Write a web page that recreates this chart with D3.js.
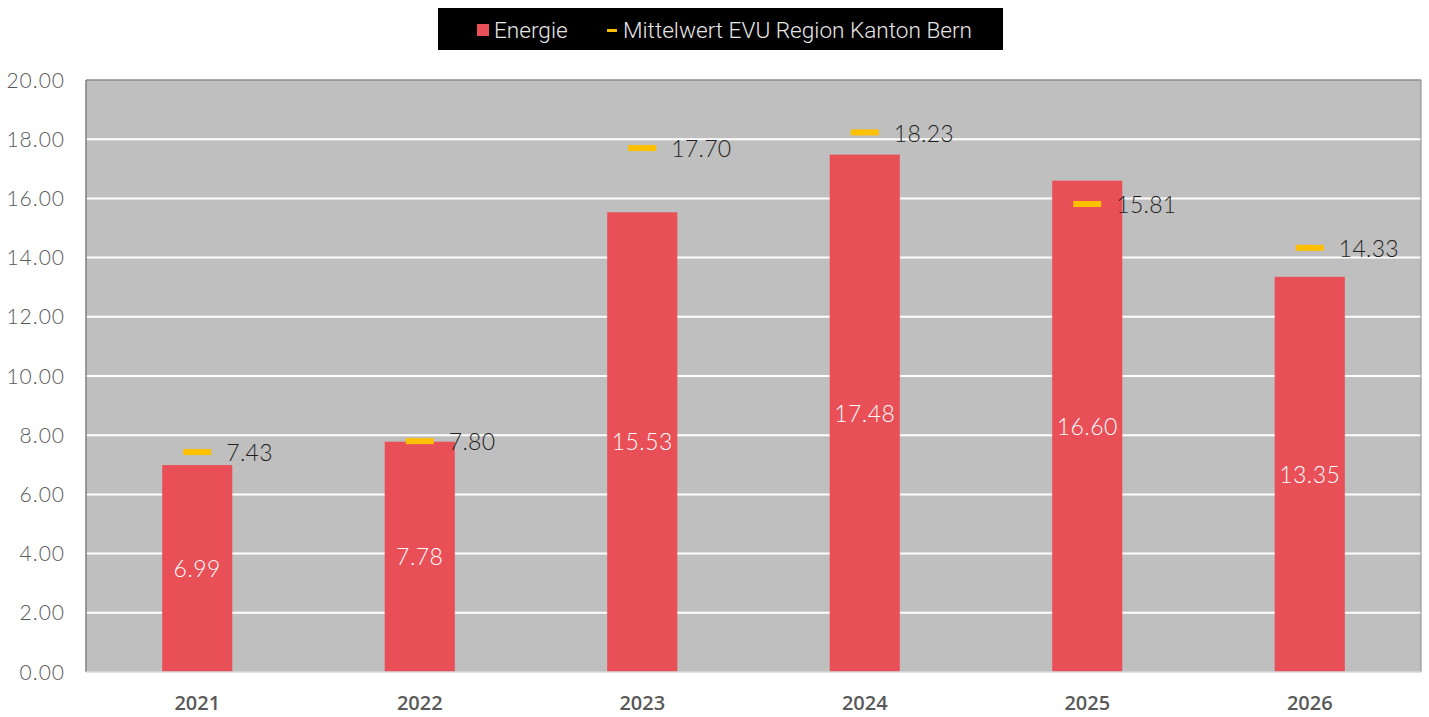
<!DOCTYPE html>
<html><head><meta charset="utf-8">
<script src="https://cdn.jsdelivr.net/npm/d3@7"></script>
<style>body{margin:0;background:#fff}svg{display:block}</style>
</head><body>
<svg id="c" width="1429" height="717"></svg>
<script>
const categories = ["2021","2022","2023","2024","2025","2026"];
const energie = [6.99, 7.78, 15.53, 17.48, 16.60, 13.35];
const mittelwert = [7.43, 7.80, 17.70, 18.23, 15.81, 14.33];
const yTicks = [0,2,4,6,8,10,12,14,16,18,20];
const legendLabels = ["Energie", "Mittelwert EVU Region Kanton Bern"];

const svg = d3.select("#c");
const m = {l:86, r:1421, t:80, b:672};
const x = d3.scaleBand().domain(categories).range([m.l, m.r]).paddingInner(0.685).paddingOuter(0.3425);
const y = d3.scaleLinear().domain([0,20]).range([m.b, m.t]);

svg.append("rect").attr("x",m.l).attr("y",m.t).attr("width",m.r-m.l).attr("height",m.b-m.t).attr("fill","#bfbfbf");

// grid
svg.append("g").selectAll("line").data(yTicks.filter(d=>d>0 && d<20)).join("line")
  .attr("x1",m.l).attr("x2",m.r).attr("y1",d=>y(d)).attr("y2",d=>y(d))
  .attr("stroke","#fff").attr("stroke-width",2);

// borders
svg.append("line").attr("x1",m.l).attr("x2",m.r).attr("y1",m.t).attr("y2",m.t).attr("stroke","#8c8c8c").attr("stroke-width",1.5);
svg.append("line").attr("x1",m.r).attr("x2",m.r).attr("y1",m.t).attr("y2",m.b).attr("stroke","#8c8c8c").attr("stroke-width",1);
svg.append("line").attr("x1",m.l).attr("x2",m.l).attr("y1",m.t).attr("y2",m.b).attr("stroke","#7f7f7f").attr("stroke-width",1.5);

// bars
svg.append("g").selectAll("rect").data(energie).join("rect")
  .attr("x",(d,i)=>x(categories[i])).attr("width",x.bandwidth())
  .attr("y",d=>y(d)).attr("height",d=>y(0)-y(d)).attr("fill","#e84f57");

svg.append("line").attr("x1",m.l).attr("x2",m.r).attr("y1",m.b).attr("y2",m.b).attr("stroke","#d9d9d9").attr("stroke-width",1.5);

// bar labels
svg.append("g").selectAll("text").data(energie).join("text")
  .attr("x",(d,i)=>x(categories[i])+x.bandwidth()/2)
  .attr("y",d=>(y(d)+y(0))/2).attr("dy","0.36em")
  .attr("text-anchor","middle").attr("fill","#fff")
  .attr("font-family","Lato").attr("font-weight",300).attr("font-size",23).attr("letter-spacing",0.5)
  .text(d=>d.toFixed(2));

// markers
const cx = c => x(c)+x.bandwidth()/2;
svg.append("g").selectAll("rect").data(mittelwert).join("rect")
  .attr("x",(d,i)=>cx(categories[i])-14).attr("width",28)
  .attr("y",d=>y(d)-3).attr("height",6).attr("fill","#ffc000");
svg.append("g").selectAll("text").data(mittelwert).join("text")
  .attr("x",(d,i)=>cx(categories[i])+29).attr("y",d=>y(d)+1).attr("dy","0.36em")
  .attr("fill","#1f1f1f").attr("font-family","Lato").attr("font-weight",300).attr("font-size",23).attr("letter-spacing",0.3)
  .text(d=>d.toFixed(2));

// y axis labels
svg.append("g").selectAll("text").data(yTicks).join("text")
  .attr("x",65).attr("y",d=>y(d)).attr("dy","0.36em").attr("text-anchor","end")
  .attr("fill","#595959").attr("font-family","Lato").attr("font-weight",300).attr("font-size",21).attr("letter-spacing",1)
  .text(d=>d.toFixed(2));

// x labels
svg.append("g").selectAll("text").data(categories).join("text")
  .attr("x",d=>cx(d)).attr("y",703).attr("dy","0.36em").attr("text-anchor","middle")
  .attr("fill","#595959").attr("font-family","Open Sans").attr("font-weight",600).attr("font-size",20)
  .text(d=>d);

// legend
const lg = svg.append("g");
lg.append("rect").attr("x",438).attr("y",8).attr("width",565).attr("height",42).attr("fill","#000");
lg.append("rect").attr("x",477).attr("y",24).attr("width",12).attr("height",12).attr("fill","#e84f57");
lg.append("text").attr("x",494).attr("y",30).attr("dy","0.36em").attr("fill","#e6e6e6")
  .attr("font-family","Roboto").attr("font-weight",300).attr("font-size",22.6).text(legendLabels[0]);
lg.append("rect").attr("x",607).attr("y",29).attr("width",10).attr("height",3).attr("fill","#ffc000");
lg.append("text").attr("x",623).attr("y",30).attr("dy","0.36em").attr("fill","#e6e6e6")
  .attr("font-family","Roboto").attr("font-weight",300).attr("font-size",22.6).text(legendLabels[1]);
</script>
</body></html>
